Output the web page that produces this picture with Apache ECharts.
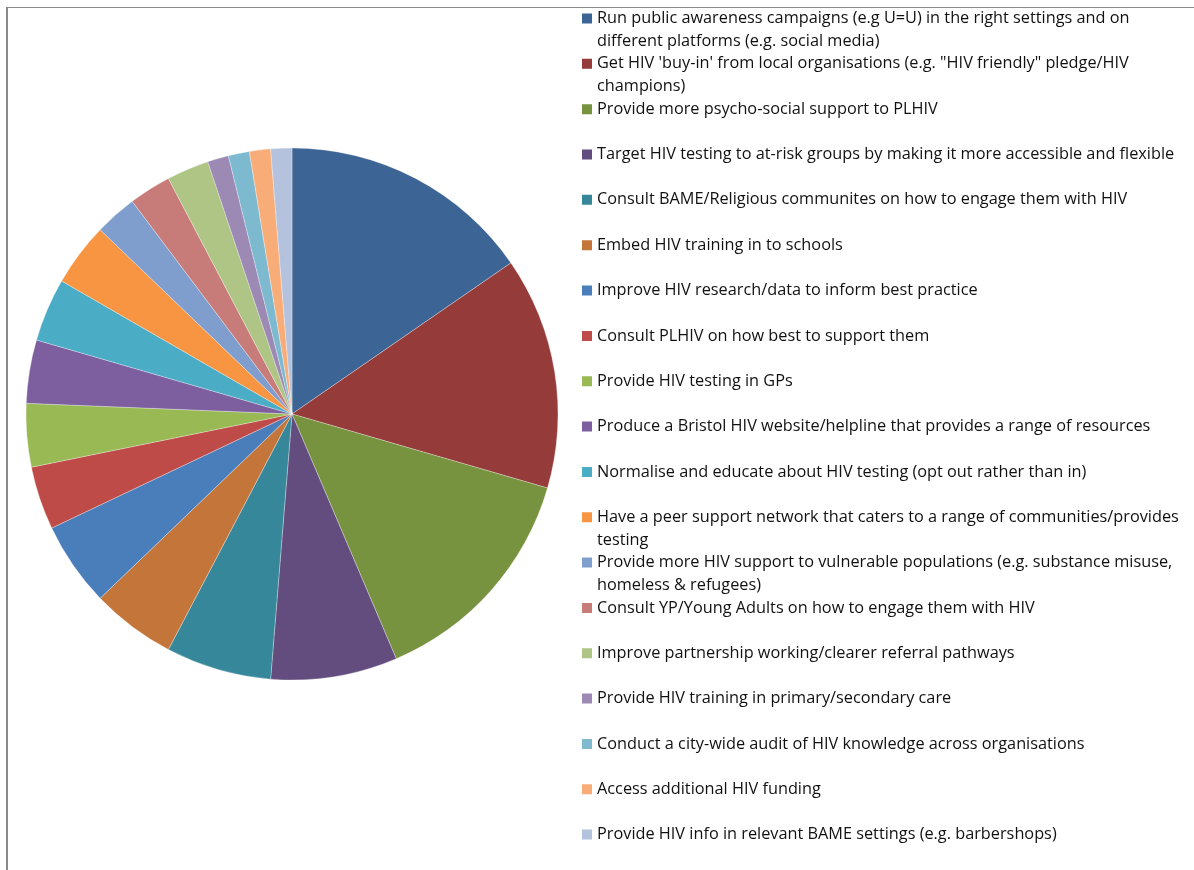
<!DOCTYPE html>
<html>
<head>
<meta charset="utf-8">
<script src="https://cdn.jsdelivr.net/npm/echarts@6/dist/echarts.min.js"></script>
<style>
  html, body { margin: 0; padding: 0; background: #fff; }
  #chart { width: 1194px; height: 870px; position: relative; }
  #frame {
    position: absolute; left: 6px; top: 7px; right: -20px; bottom: -20px;
    border-left: 2px solid #8a8a8a; border-top: 1px solid #8a8a8a;
    pointer-events: none;
  }
</style>
</head>
<body>
<div id="chart"></div>
<div id="frame"></div>
<script>
// Suggested actions (number of mentions), in slice order from 12 o'clock clockwise
const categories = [
  'Run public awareness campaigns (e.g U=U) in the right settings and on\ndifferent platforms (e.g. social media)',
  'Get HIV \'buy-in\' from local organisations (e.g. "HIV friendly" pledge/HIV\nchampions)',
  'Provide more psycho-social support to PLHIV',
  'Target HIV testing to at-risk groups by making it more accessible and flexible',
  'Consult BAME/Religious communites on how to engage them with HIV',
  'Embed HIV training in to schools',
  'Improve HIV research/data to inform best practice',
  'Consult PLHIV on how best to support them',
  'Provide HIV testing in GPs',
  'Produce a Bristol HIV website/helpline that provides a range of resources',
  'Normalise and educate about HIV testing (opt out rather than in)',
  'Have a peer support network that caters to a range of communities/provides\ntesting',
  'Provide more HIV support to vulnerable populations (e.g. substance misuse,\nhomeless & refugees)',
  'Consult YP/Young Adults on how to engage them with HIV',
  'Improve partnership working/clearer referral pathways',
  'Provide HIV training in primary/secondary care',
  'Conduct a city-wide audit of HIV knowledge across organisations',
  'Access additional HIV funding',
  'Provide HIV info in relevant BAME settings (e.g. barbershops)'
];

const mentions = [12, 11, 11, 6, 5, 4, 4, 3, 3, 3, 3, 3, 2, 2, 2, 1, 1, 1, 1];

const sliceColors = [
  '#3c6495', '#953b39', '#78933f', '#634d7e', '#37879a', '#c4763a',
  '#4a7ebb', '#be4b48', '#98b954', '#7d5fa0', '#4aacc5', '#f79543',
  '#7f9ece', '#c87c7a', '#aec585', '#9c89b4', '#7dbad0', '#f8ad79',
  '#b4c2de'
];

// legend rows: every entry reserves two text lines
const LINE_H = 22.67;
const SLOT_H = LINE_H * 2;
// square swatch on the first line, with invisible corner points fixing the box
const swatch = 'path://M0 0 L0.01 0 L0 0.01 Z M10 ' + SLOT_H + ' L9.99 ' + SLOT_H + ' L10 ' + (SLOT_H - 0.01) + ' Z ' +
  'M0 ' + (LINE_H / 2 - 5) + ' L10 ' + (LINE_H / 2 - 5) + ' L10 ' + (LINE_H / 2 + 5) + ' L0 ' + (LINE_H / 2 + 5) + ' Z';

const chart = echarts.init(document.getElementById('chart'), null, { renderer: 'canvas' });

chart.setOption({
  animation: false,
  color: sliceColors,
  legend: {
    orient: 'vertical',
    left: 582,
    top: 18.5 - LINE_H / 2,
    height: 864,
    padding: 0,
    itemWidth: 10,
    itemHeight: SLOT_H,
    itemGap: 0,
    icon: swatch,
    itemStyle: { borderWidth: 0 },
    selectedMode: false,
    formatter: function (name) {
      return name.indexOf('\n') >= 0 ? name : name + '\n ';
    },
    textStyle: {
      fontFamily: '"Open Sans", sans-serif',
      fontSize: 16.3,
      lineHeight: LINE_H,
      color: '#111'
    },
    data: categories
  },
  series: [{
    type: 'pie',
    center: [292, 414],
    radius: [0, 266],
    startAngle: 90,
    clockwise: true,
    label: { show: false },
    labelLine: { show: false },
    itemStyle: { borderColor: 'rgba(255,255,255,0.6)', borderWidth: 0.5 },
    emphasis: { disabled: true },
    data: categories.map(function (name, i) {
      return { name: name, value: mentions[i] };
    })
  }]
});
</script>
</body>
</html>
